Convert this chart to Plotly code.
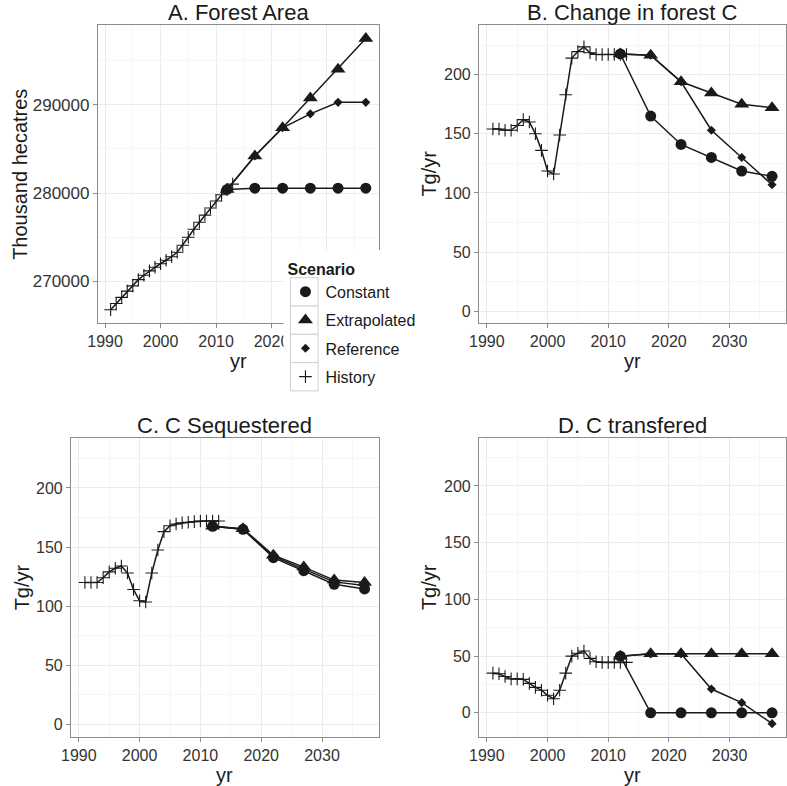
import plotly.graph_objects as go

W, H = 787, 786

hist_years = list(range(1991, 2014))
scen_years = [2012, 2017, 2022, 2027, 2032, 2037]

# A. Forest area (thousand ha)
area_history = [266800, 267500, 268200, 268900, 269500, 270200, 270700, 271200,
                271600, 272000, 272400, 272800, 273300, 274100, 275000, 275900,
                276700, 277500, 278300, 279100, 279800, 280400, 281000]
area_constant = [280400, 280550, 280550, 280550, 280550, 280550]
area_extrapolated = [280400, 284190, 287380, 290740, 293990, 297470]
area_reference = [280400, 284190, 287380, 288950, 290250, 290250]

# B. Change in forest C (Tg/yr)
change_history = [154, 154, 153, 153, 157, 162, 160, 150, 136, 118.5, 116, 149,
                  183, 214, 219.5, 223.5, 218.5, 217, 217, 217, 217, 217, 217]
change_constant = [217.5, 165, 141, 130, 118.5, 114]
change_extrapolated = [217.5, 216.5, 194, 184.5, 175, 172]
change_reference = [217.5, 216.5, 194, 153, 130, 107]

# C. C sequestered (Tg/yr)
seq_history = [120, 120, 120, 124, 129, 132, 134, 128, 114, 104.5, 103.5, 128,
               147.5, 163, 168, 169.5, 170.5, 171, 171.5, 172, 172, 172, 172]
seq_constant = [167.5, 165, 141, 130, 118.5, 114.5]
seq_extrapolated = [167.5, 165.5, 143, 133, 122, 120]
seq_reference = [167.5, 165, 142, 131.5, 120.5, 117.5]

# D. C transferred (Tg/yr)
transfer_history = [35, 34.5, 32, 30, 30, 29.5, 26, 22.5, 20, 15.5, 12.5, 20,
                    35, 50, 52.5, 54.5, 48, 45, 44.5, 44.5, 44.5, 44.5, 44.5]
transfer_constant = [50, 0, 0, 0, 0, 0]
transfer_extrapolated = [50, 52, 52, 52, 52, 52]
transfer_reference = [50, 52, 52, 21, 9, -9.5]

scenarios = ["Constant", "Extrapolated", "Reference", "History"]
marker_style = {
    "Constant": dict(symbol="circle", size=11),
    "Extrapolated": dict(symbol="triangle-up", size=13),
    "Reference": dict(symbol="diamond", size=7),
    "History": dict(symbol="cross-thin", size=9, line=dict(width=1.1, color="#1a1a1a")),
}

panels = [
    dict(title="A. Forest Area", ytitle="Thousand hecatres",
         series={"History": area_history, "Constant": area_constant,
                 "Extrapolated": area_extrapolated, "Reference": area_reference},
         box=(89, 25, 373.3, 323), yrange=[265300, 299000], dtick=10000, tick0=270000),
    dict(title="B. Change in forest C", ytitle="Tg/yr",
         series={"History": change_history, "Constant": change_constant,
                 "Extrapolated": change_extrapolated, "Reference": change_reference},
         box=(475, 25, 786, 323), yrange=[-10, 242], dtick=50, tick0=0),
    dict(title="C. C Sequestered", ytitle="Tg/yr",
         series={"History": seq_history, "Constant": seq_constant,
                 "Extrapolated": seq_extrapolated, "Reference": seq_reference},
         box=(61.7, 438.3, 373.3, 736.7), yrange=[-10.5, 242], dtick=50, tick0=0),
    dict(title="D. C transfered", ytitle="Tg/yr",
         series={"History": transfer_history, "Constant": transfer_constant,
                 "Extrapolated": transfer_extrapolated, "Reference": transfer_reference},
         box=(475, 438.3, 786, 736.7), yrange=[-21, 242], dtick=50, tick0=0),
]

FONT = "Liberation Sans, Arial, Helvetica, sans-serif"
INK = "#1a1a1a"
GREY = "#8c8c8c"

fig = go.Figure()
layout = dict(
    width=W, height=H, margin=dict(l=0, r=0, t=0, b=0),
    paper_bgcolor="white", plot_bgcolor="white",
    font=dict(family=FONT, color=INK),
    annotations=[], shapes=[],
)

def px(x):
    return x / W

def py(y):
    return 1 - y / H

axis_common = dict(
    showline=True, mirror=True, linecolor=GREY, linewidth=1,
    ticks="outside", ticklen=4, tickcolor=GREY, tickwidth=1,
    showgrid=True, gridcolor="#EBEBEB", gridwidth=1, zeroline=False,
    tickfont=dict(size=16, color="#333333"),
)

for i, p in enumerate(panels):
    n = "" if i == 0 else str(i + 1)
    xa, ya = "x" + n, "y" + n
    l, t, r, b = p["box"]
    layout["xaxis" + n] = dict(
        axis_common, domain=[px(l), px(r)], anchor=ya, range=[1988.7, 2039.3],
        tick0=1990, dtick=10,
        minor=dict(tick0=1995, dtick=10, showgrid=True, gridcolor="#F6F6F6", gridwidth=1),
    )
    layout["yaxis" + n] = dict(
        axis_common, domain=[py(b), py(t)], anchor=xa, range=p["yrange"],
        tick0=p["tick0"], dtick=p["dtick"], tickformat="d",
        minor=dict(tick0=p["tick0"] + p["dtick"] / 2, dtick=p["dtick"], showgrid=True,
                   gridcolor="#F6F6F6", gridwidth=1),
    )
    if i == 0:
        layout["yaxis"]["tickfont"] = dict(size=17, color="#333333")

    # lines first
    for name in ["History", "Reference", "Constant", "Extrapolated"]:
        yrs = hist_years if name == "History" else scen_years
        fig.add_trace(go.Scatter(
            x=yrs, y=p["series"][name], mode="lines", xaxis=xa, yaxis=ya,
            line=dict(color=INK, width=1.5), legendgroup=name, showlegend=False,
            hoverinfo="skip"))
    # then points
    for name in ["History", "Reference", "Constant", "Extrapolated"]:
        yrs = hist_years if name == "History" else scen_years
        fig.add_trace(go.Scatter(
            x=yrs, y=p["series"][name], mode="markers", xaxis=xa, yaxis=ya,
            marker=dict(color=INK, **marker_style[name]), name=name,
            legendgroup=name, legendrank=scenarios.index(name) + 1,
            showlegend=(i == 0)))

    cx = (l + r) / 2
    cy = (t + b) / 2
    layout["annotations"] += [
        dict(text=p["title"], x=px(cx), y=py(t - 13), xref="paper", yref="paper",
             showarrow=False, xanchor="center", yanchor="middle",
             font=dict(size=22, color=INK)),
        dict(text="yr", x=px(cx), y=py(b + 38), xref="paper", yref="paper",
             showarrow=False, xanchor="center", yanchor="middle",
             font=dict(size=20, color=INK)),
        dict(text=p["ytitle"], x=px(l - (79 if i == 0 else 51) if i != 2 else 12),
             y=py(cy), xref="paper", yref="paper", textangle=-90,
             showarrow=False, xanchor="center", yanchor="middle",
             font=dict(size=20, color=INK)),
    ]

# white legend background covering the corner of panel A
layout["shapes"].append(dict(type="rect", xref="paper", yref="paper", layer="above",
                             x0=px(277), x1=px(415), y0=py(250), y1=py(400),
                             fillcolor="white", line=dict(width=0)))
# legend key boxes
for k in range(len(scenarios)):
    top = 277.7 + 28.3 * k
    layout["shapes"].append(dict(type="rect", xref="paper", yref="paper", layer="above",
                                 x0=px(284), x1=px(312), y0=py(top + 28.3), y1=py(top),
                                 fillcolor="white", line=dict(width=1, color="#CFCFCF")))

layout["legend"] = dict(
    x=px(279), y=py(254), xanchor="left", yanchor="top",
    bgcolor="rgba(0,0,0,0)", borderwidth=0,
    font=dict(size=16, color=INK, family=FONT),
    title=dict(text="<b>Scenario</b>", font=dict(size=16, color=INK, family=FONT)),
    traceorder="grouped", tracegroupgap=4.5, itemsizing="trace",
)

fig.update_layout(**layout)
# the page's default body margin would shift the fixed-size figure
fig.write_html("out.html", config={"displayModeBar": False},
               post_script="document.body.style.margin='0';"
                           "document.body.style.overflow='hidden';")
